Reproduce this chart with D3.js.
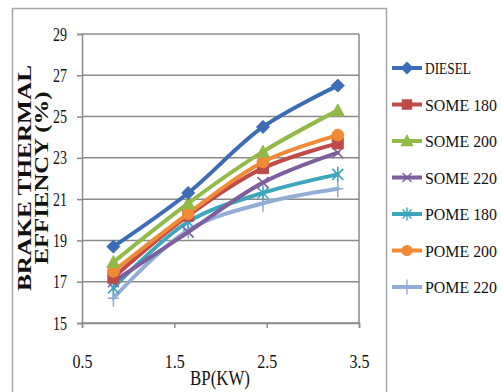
<!DOCTYPE html>
<html>
<head>
<meta charset="utf-8">
<script src="https://cdn.jsdelivr.net/npm/d3@7"></script>
<style>
  body { margin: 0; background: #fff; }
  svg text { font-family: "Liberation Serif", "Times New Roman", serif; fill: #111; }
</style>
</head>
<body>
<div id="chart"></div>
<script>
// Data

var bp = [0.84, 1.65, 2.46, 3.27];
var seriesNames = ["DIESEL", "SOME 180", "SOME 200", "SOME 220", "POME 180", "POME 200", "POME 220"];
var diesel  = [18.7, 21.3, 24.5, 26.5];
var some180 = [17.2, 20.2, 22.5, 23.7];
var some200 = [17.95, 20.8, 23.3, 25.3];
var some220 = [17.0, 19.4, 21.8, 23.25];
var pome180 = [16.7, 19.9, 21.3, 22.2];
var pome200 = [17.5, 20.3, 22.8, 24.1];
var pome220 = [16.2, 19.5, 20.8, 21.5];
var xTicks = [0.5, 1.5, 2.5, 3.5];
var yTicks = [15, 17, 19, 21, 23, 25, 27, 29];

var colors = ["#3C6DB4", "#BE4B48", "#92BA48", "#7D5FA0", "#3EA5BF", "#F08A35", "#93AED6"];
var shapes = ["diamond", "square", "triangle", "x", "star", "circle", "plus"];
var allValues = [diesel, some180, some200, some220, pome180, pome200, pome220];

var series = seriesNames.map(function(n, i) {
  return {name: n, color: colors[i], shape: shapes[i],
          values: bp.map(function(x, j) { return {x: x, y: allValues[i][j]}; })};
});

var margin = {top: 34, left: 82};
var width = 359 - 82, height = 323 - 34;

var svg = d3.select("#chart").append("svg")
    .attr("width", 502)
    .attr("height", 392);

// outer chart border
svg.append("rect")
  .attr("x", 12.5).attr("y", 8.5)
  .attr("width", 374).attr("height", 400)
  .attr("fill", "none")
  .attr("stroke", "#a6a6a6")
  .attr("stroke-width", 1.5);

var g = svg.append("g")
    .attr("transform", `translate(${margin.left}, ${margin.top})`);

// Scales

var xScale = d3.scaleLinear().domain([0.5, 3.5]).range([0, width]);
var yScale = d3.scaleLinear().domain([15, 29]).range([height, 0]);

// Gridlines

g.selectAll(".grid")
  .data(yTicks)
  .enter().append("line")
  .attr("x1", 0).attr("x2", width)
  .attr("y1", function(d) { return yScale(d); })
  .attr("y2", function(d) { return yScale(d); })
  .attr("stroke", "#8a8a8a")
  .attr("stroke-width", 1.5);

g.append("line")
  .attr("x1", width).attr("x2", width)
  .attr("y1", 0).attr("y2", height)
  .attr("stroke", "#8a8a8a")
  .attr("stroke-width", 1.5);

// Axes

var xAxis = g.append("g")
  .attr("transform", `translate(0, ${height})`)
  .call(d3.axisBottom(xScale).tickValues(xTicks).tickFormat(d3.format(".1f")).tickSize(5));

var yAxis = g.append("g")
  .call(d3.axisLeft(yScale).tickValues(yTicks).tickSize(5).tickPadding(10));

[xAxis, yAxis].forEach(function(ax) {
  ax.select(".domain").attr("stroke", "#8a8a8a").attr("stroke-width", 1.5);
  ax.selectAll(".tick line").attr("stroke", "#8a8a8a").attr("stroke-width", 1.5);
  ax.selectAll(".tick text")
    .attr("font-family", "Liberation Serif")
    .attr("font-size", 19)
    .attr("fill", "#111");
});
xAxis.selectAll(".tick text")
  .attr("y", 45).attr("dy", 0)
  .attr("textLength", 20).attr("lengthAdjust", "spacingAndGlyphs");
yAxis.selectAll(".tick text").attr("textLength", 14).attr("lengthAdjust", "spacingAndGlyphs");

// Lines

var line = d3.line()
  .x(function(d) { return xScale(d.x); })
  .y(function(d) { return yScale(d.y); })
  .curve(d3.curveCatmullRom.alpha(0.5));

function markerPath(shape, s) {
  var h = s / 2;
  if (shape == "diamond") return `M0,${-h-1}L${h+1},0L0,${h+1}L${-h-1},0Z`;
  if (shape == "square") return `M${-h},${-h}H${h}V${h}H${-h}Z`;
  if (shape == "triangle") return `M0,${-h-1}L${h+1},${h}L${-h-1},${h}Z`;
  if (shape == "x") return `M${-h},${-h}L${h},${h}M${h},${-h}L${-h},${h}`;
  if (shape == "star") return `M${-h},${-h}L${h},${h}M${h},${-h}L${-h},${h}M0,${-h-2}V${h+2}`;
  if (shape == "plus") return `M0,${-h-3}V${h+3}M${-h},0H${h}`;
  return d3.symbol(d3.symbolCircle, s * s * 0.9)();
}

var order = [6, 4, 3, 1, 5, 2, 0];

order.forEach(function(i) {
  var s = series[i];
  var sg = g.append("g");
  sg.append("path")
    .datum(s.values)
    .attr("d", line)
    .attr("fill", "none")
    .attr("stroke", s.color)
    .attr("stroke-width", 4)
    .attr("stroke-linecap", "round");
  var open = (s.shape == "x" || s.shape == "star" || s.shape == "plus");
  sg.selectAll("path.m")
    .data(s.values)
    .enter().append("path")
    .attr("class", "m")
    .attr("transform", function(d) { return `translate(${xScale(d.x)}, ${yScale(d.y)})`; })
    .attr("d", markerPath(s.shape, 11))
    .attr("fill", open ? "none" : s.color)
    .attr("stroke", s.color)
    .attr("stroke-width", open ? 1.6 : 1);
});

// Labels

var yLabel = svg.append("g")
  .attr("transform", "translate(0,178) rotate(-90)")
  .attr("text-anchor", "middle");

yLabel.append("text")
  .attr("x", 0).attr("y", 31)
  .attr("font-size", 18)
  .attr("font-weight", "bold")
  .attr("textLength", 226).attr("lengthAdjust", "spacingAndGlyphs")
  .text("BRAKE THERMAL");

yLabel.append("text")
  .attr("x", 0).attr("y", 48)
  .attr("font-size", 18)
  .attr("font-weight", "bold")
  .attr("textLength", 173).attr("lengthAdjust", "spacingAndGlyphs")
  .text("EFFIENCY (%)");

svg.append("text")
  .attr("x", 220).attr("y", 385)
  .attr("text-anchor", "middle")
  .attr("font-size", 21)
  .attr("textLength", 60).attr("lengthAdjust", "spacingAndGlyphs")
  .text("BP(KW)");

// Legend

var legend = svg.selectAll(".legend")
  .data(series)
  .enter().append("g")
  .attr("transform", function(d, i) { return `translate(392, ${68 + i * 36.5})`; });

legend.append("line")
  .attr("x1", 0).attr("x2", 30)
  .attr("stroke", function(d) { return d.color; })
  .attr("stroke-width", 4);

legend.append("path")
  .attr("transform", "translate(15,0)")
  .attr("d", function(d) { return markerPath(d.shape, 9); })
  .attr("fill", function(d) { return (d.shape == "x" || d.shape == "star" || d.shape == "plus") ? "none" : d.color; })
  .attr("stroke", function(d) { return d.color; })
  .attr("stroke-width", 1.4);

legend.append("text")
  .attr("x", 33).attr("y", 6)
  .attr("font-size", 16.5)
  .attr("textLength", function(d) { return d.name == "DIESEL" ? 46 : 72; })
  .attr("lengthAdjust", "spacingAndGlyphs")
  .text(function(d) { return d.name; });
</script>
</body>
</html>
